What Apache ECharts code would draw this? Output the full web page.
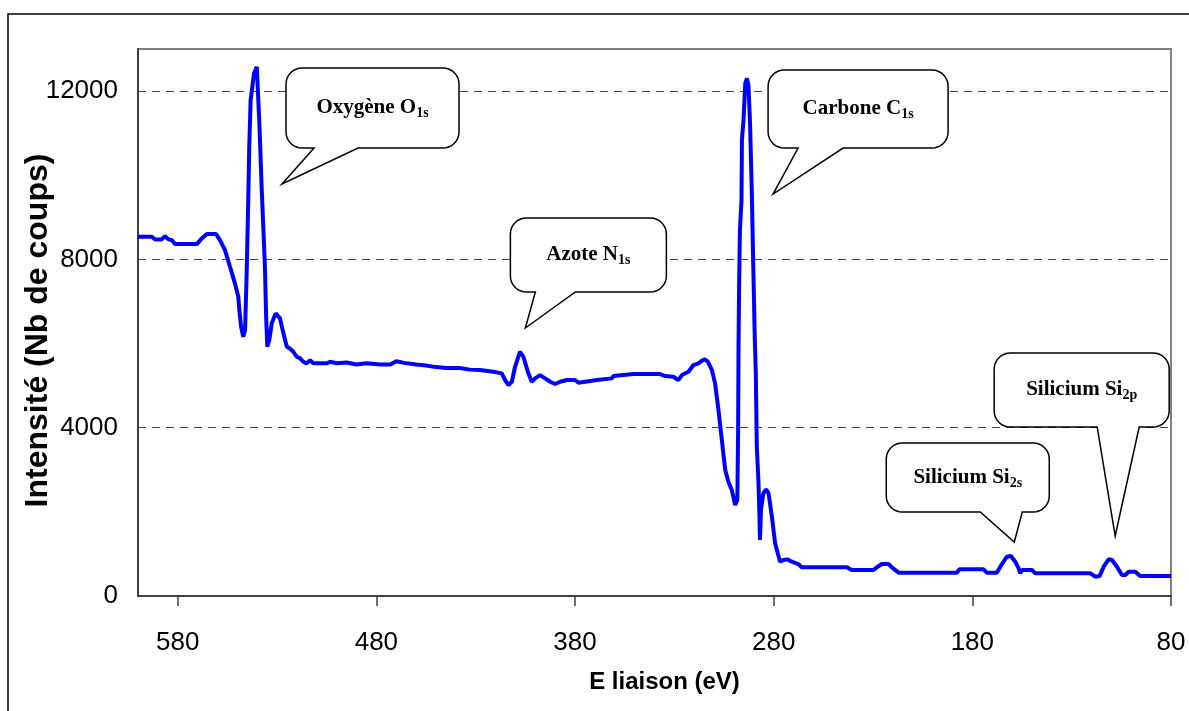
<!DOCTYPE html>
<html>
<head>
<meta charset="utf-8">
<title>Spectre XPS</title>
<script src="https://cdn.jsdelivr.net/npm/echarts@6/dist/echarts.min.js"></script>
<style>
  html, body { margin: 0; padding: 0; background: #fff; }
  #chart { width: 1189px; height: 711px; }
</style>
</head>
<body>
<div id="chart"></div>
<script>
var energies = [600, 593, 591.4, 588.1, 586.4, 584.7, 583, 581.4, 570.4, 567.9, 565.4, 560.7, 558.7, 556.2,
  553.7, 551.2, 549.5, 549.0, 548.1, 547.0, 546.1, 545.3, 544.5, 544.0, 543.3, 541.6, 540.2, 539.4, 538.9,
  537.7, 536.1, 535.5, 534.9, 533.9, 532.7, 530.7, 528.5, 526.8, 525.1, 523.5, 521.8, 520.1, 518.4, 516.8,
  515.1, 513.4, 511.7, 505, 503.3, 500, 495, 490, 485, 478, 473, 470, 466, 460, 455, 450, 445, 438, 433,
  427.8, 421.1, 416.9, 415.2, 413.5, 411.8, 410.2, 407.7, 406.0, 403.5, 401.8, 400.1, 397.6, 395.1, 392.5,
  390.0, 387.5, 384.1, 380.0, 378.3, 374.9, 369.0, 361.5, 360.7, 350.6, 337.2, 334.6, 330.5, 328.0, 326.2,
  322.9, 320.4, 317.9, 315.7, 314.5, 313.0, 311.1, 309.5, 307.8, 306.1, 304.4, 302.8, 301.1, 300.3, 299.4,
  298.3, 297.9, 297.7, 297.4, 297.0, 296.2, 296.0, 295.2, 294.3, 293.5, 292.7, 291.9, 291.0, 290.2, 289.5,
  289.0, 288.5, 287.7, 287.2, 286.9, 286.4, 285.2, 283.8, 282.6, 280.9, 279.3, 276.8, 275.1, 273.1, 270.9,
  267.6, 265.9, 243.2, 240.7, 229.8, 228.1, 225.6, 222.2, 220.5, 217.1, 187.8, 186.5, 174.4, 172.7, 167.7,
  165.1, 162.6, 160.6, 158.4, 156.7, 155.9, 155.0, 150.0, 148.3, 120.6, 118.1, 115.9, 113.9, 111.4, 109.7,
  107.2, 104.7, 103.0, 101.3, 98.0, 95.5, 80];
var counts = [8540, 8540, 8475, 8475, 8554, 8475, 8459, 8364, 8364, 8499, 8601, 8601, 8459, 8221,
  7824, 7430, 7112, 6795, 6399, 6161, 6320, 7667, 9409, 10676, 11785, 12419, 12576, 12538, 11231,
  9647, 7824, 6637, 5924, 6083, 6479, 6717, 6598, 6242, 5924, 5880, 5805, 5686, 5648, 5567,
  5529, 5607, 5529, 5529, 5567, 5530, 5550, 5500, 5530, 5500, 5500, 5580, 5540, 5500, 5480, 5440, 5420, 5420, 5380,
  5370, 5330, 5291, 5132, 5013, 5092, 5448, 5805, 5686, 5291, 5092, 5172, 5251, 5172, 5092,
  5037, 5092, 5132, 5132, 5068, 5092, 5132, 5172, 5227, 5275, 5275, 5227, 5211, 5132, 5251,
  5330, 5489, 5529, 5607, 5623, 5560, 5370, 5054, 4419, 3707, 2994, 2716, 2519, 2359, 2162,
  2281, 3944, 5924, 7400, 8696, 9409, 10834, 11310, 12182, 12301, 12141, 11231, 9568, 7667, 6083,
  5300, 3547, 2756, 1965, 1331, 2043, 2440, 2535, 2440, 1884, 1252, 815, 855, 871, 815,
  760, 681, 681, 618, 618, 681, 760, 760, 681, 554, 554, 634, 634, 554, 554,
  760, 934, 950, 815, 658, 539, 618, 618, 539, 539, 459, 475, 696, 872, 855,
  696, 499, 499, 577, 577, 475, 475];

// etiquettes des pics : texte, indice, pointe de la bulle (eV, coups)
var peakNames = ['Oxygène O', 'Azote N', 'Carbone C', 'Silicium Si', 'Silicium Si'];
var peakSubs = ['1s', '1s', '1s', '2s', '2p'];
var peakTipE = [527.5, 405, 280.3, 158.9, 108.1];
var peakTipI = [9791, 6369, 9553, 1283, 1426];

// geometrie des bulles relative a la pointe (px) : gauche, droite, haut, bas, base du bec
var bubbleBox = [
  [4, 177, -116, -36, 32, 76],
  [-15, 141, -110, -36, 10, 50],
  [-5, 175, -124, -46, 25, 70],
  [-128, 35, -99, -30, -34, 8],
  [-121, 54, -183, -109, -18, 24]
];

var sans = "'Liberation Sans', Arial, sans-serif";
var serif = "'Liberation Serif', 'Times New Roman', serif";

var chart = echarts.init(document.getElementById('chart'));

var lineData = energies.map(function (e, i) { return [e, counts[i]]; });

chart.setOption({
  animation: false,
  backgroundColor: '#fff',
  grid: {
    left: 138, right: 18, top: 49, bottom: 115,
    containLabel: false,
    outerBoundsMode: 'none',
    show: true, borderColor: '#808080', borderWidth: 2
  },
  xAxis: {
    type: 'value',
    inverse: true,
    min: 80, max: 600, interval: 100,
    name: 'E liaison (eV)',
    nameLocation: 'middle',
    nameGap: 74,
    nameMoveOverlap: false,
    nameTextStyle: { fontFamily: sans, fontWeight: 'bold', fontSize: 24, color: '#000', padding: [0, 0, 0, 20] },
    axisLine: { lineStyle: { color: '#404040', width: 2 } },
    axisTick: { show: true, length: 10, lineStyle: { color: '#404040', width: 1.5 } },
    axisLabel: { margin: 34, fontFamily: sans, fontSize: 26, color: '#000', showMaxLabel: false },
    splitLine: { show: false }
  },
  yAxis: {
    type: 'value',
    min: 0, max: 13000, interval: 4000,
    name: 'Intensité (Nb de coups)',
    nameLocation: 'middle',
    nameGap: 84,
    nameMoveOverlap: false,
    nameTextStyle: { fontFamily: sans, fontWeight: 'bold', fontSize: 32, color: '#000', padding: [0, 16, 0, 0] },
    axisLine: { show: true, lineStyle: { color: '#404040', width: 2 } },
    axisTick: { show: false },
    axisLabel: {
      margin: 20, fontFamily: sans, fontSize: 26, color: '#000', showMaxLabel: false,
      formatter: function (v) { return String(v); }
    },
    splitLine: {
      show: true, showMinLine: false, showMaxLine: false,
      lineStyle: { color: '#444', type: [8, 6], width: 1.2 }
    }
  },
  series: [{
    type: 'line',
    data: lineData,
    showSymbol: false,
    lineStyle: { color: '#0000ff', width: 4 },
    z: 3
  }]
});

// bulles de legende des pics
function bubblePoints(x0, x1, y0, y1, b0, b1, tx, ty) {
  var r = 16, pts = [];
  function arc(cx, cy, a0, a1) {
    for (var k = 0; k <= 8; k++) {
      var a = (a0 + (a1 - a0) * k / 8) * Math.PI / 180;
      pts.push([cx + r * Math.cos(a), cy + r * Math.sin(a)]);
    }
  }
  arc(x0 + r, y0 + r, 180, 270);
  arc(x1 - r, y0 + r, 270, 360);
  arc(x1 - r, y1 - r, 0, 90);
  pts.push([b1, y1], [tx, ty], [b0, y1]);
  arc(x0 + r, y1 - r, 90, 180);
  return pts;
}

var graphics = [{
  type: 'rect',
  shape: { x: 8, y: 14, width: 1200, height: 720 },
  style: { fill: 'none', stroke: '#000', lineWidth: 1.5 },
  silent: true
}];

peakNames.forEach(function (name, i) {
  var tip = chart.convertToPixel({ gridIndex: 0 }, [peakTipE[i], peakTipI[i]]);
  var b = bubbleBox[i];
  var x0 = tip[0] + b[0], x1 = tip[0] + b[1], y0 = tip[1] + b[2], y1 = tip[1] + b[3];
  graphics.push({
    type: 'polygon',
    shape: { points: bubblePoints(x0, x1, y0, y1, tip[0] + b[4], tip[0] + b[5], tip[0], tip[1]) },
    style: { fill: '#fff', stroke: '#000', lineWidth: 1.5 },
    z: 10
  });
  graphics.push({
    type: 'text',
    x: (x0 + x1) / 2, y: (y0 + y1) / 2,
    style: {
      text: '{m|' + name + '}{s|' + peakSubs[i] + '}',
      align: 'center', verticalAlign: 'middle',
      rich: {
        m: { fontFamily: serif, fontWeight: 'bold', fontSize: 21, lineHeight: 25, verticalAlign: 'middle', fill: '#000' },
        s: { fontFamily: serif, fontWeight: 'bold', fontSize: 14, lineHeight: 25, verticalAlign: 'bottom', fill: '#000' }
      }
    },
    z: 11
  });
});

chart.setOption({ graphic: graphics });
</script>
</body>
</html>
